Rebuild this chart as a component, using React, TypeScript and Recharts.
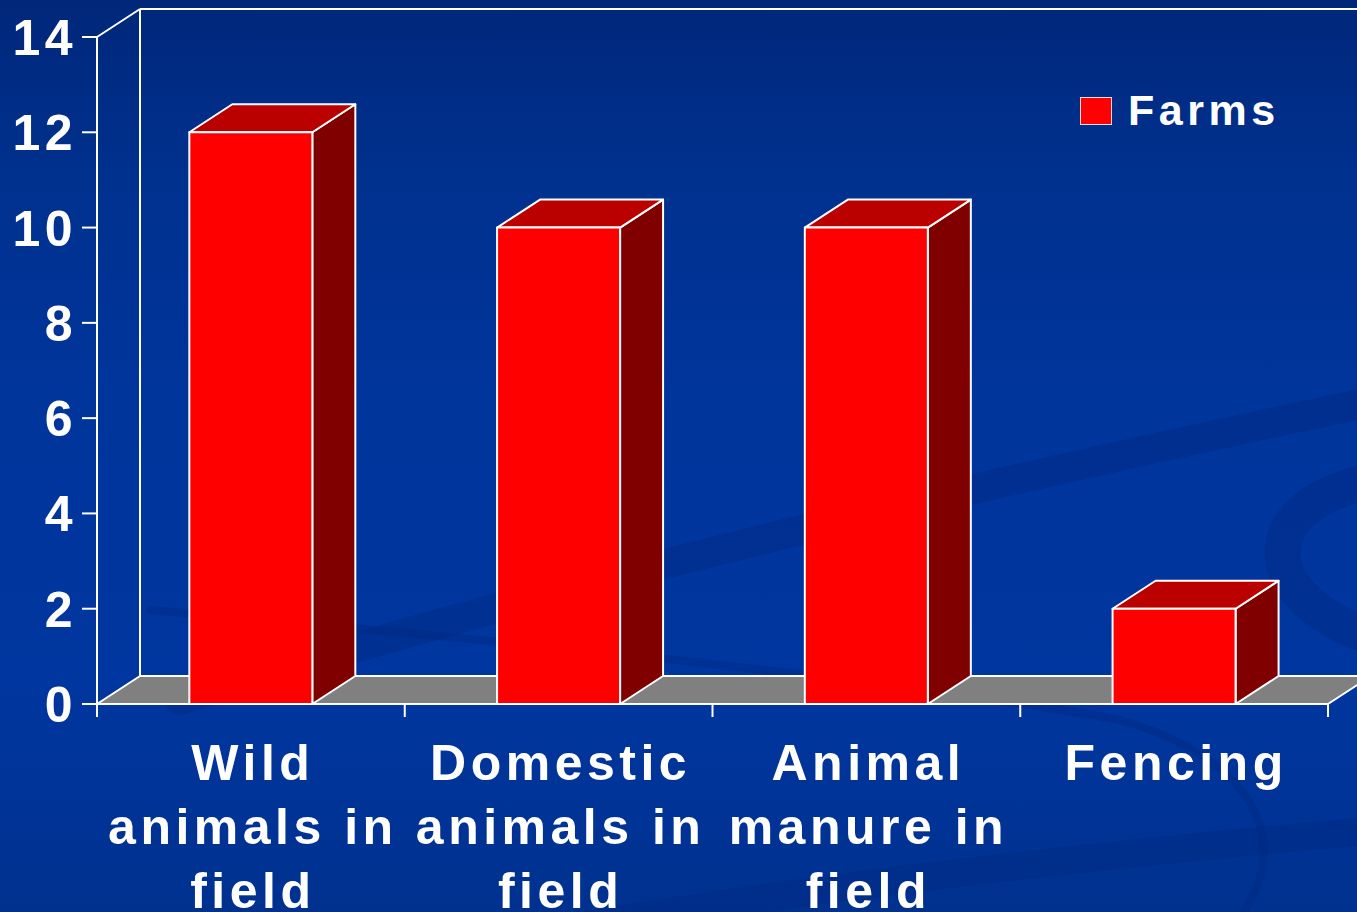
import { Bar, BarChart, Legend, ReferenceArea, XAxis, YAxis } from "recharts";

// survey counts per contamination source
const categories = ["Wild\nanimals in\nfield", "Domestic\nanimals in\nfield", "Animal\nmanure in\nfield", "Fencing"];
const farms = [12, 10, 10, 2];
const yTicks = [0, 2, 4, 6, 8, 10, 12, 14];

const data = categories.map((category, i) => ({ category, farms: farms[i] }));

const FONT = "'Liberation Sans', Arial, sans-serif";
const DEPTH_X = 43;
const DEPTH_Y = -28;

function Box3D(props: any) {
  const { x, y, width: w, height: h } = props;
  if (!h) return null;
  const top = `${x},${y} ${x + DEPTH_X},${y + DEPTH_Y} ${x + w + DEPTH_X},${y + DEPTH_Y} ${x + w},${y}`;
  const side = `${x + w},${y} ${x + w + DEPTH_X},${y + DEPTH_Y} ${x + w + DEPTH_X},${y + h + DEPTH_Y} ${x + w},${y + h}`;
  return (
    <g stroke="#fff" strokeWidth={2} strokeLinejoin="round">
      <polygon points={side} fill="#800000" />
      <polygon points={top} fill="#bb0000" />
      <rect x={x} y={y} width={w} height={h} fill="#ff0000" />
    </g>
  );
}

// back wall, floor and category separators around the plot box
function Frame(props: any) {
  const { x, y, width: w, height: h } = props;
  const n = categories.length;
  const floor = `${x},${y + h} ${x + DEPTH_X},${y + h + DEPTH_Y} ${x + w + DEPTH_X},${y + h + DEPTH_Y} ${x + w},${y + h}`;
  return (
    <g stroke="#fff" strokeWidth={2} fill="none">
      <line x1={x} y1={y} x2={x + DEPTH_X} y2={y + DEPTH_Y} />
      <line x1={x + DEPTH_X} y1={y + DEPTH_Y} x2={x + w + DEPTH_X} y2={y + DEPTH_Y} />
      <line x1={x + DEPTH_X} y1={y + DEPTH_Y} x2={x + DEPTH_X} y2={y + h + DEPTH_Y} />
      <polygon points={floor} fill="#808080" strokeLinejoin="round" />
      {Array.from({ length: n + 1 }, (_, i) => (
        <line key={i} x1={x + (i * w) / n} y1={y + h} x2={x + (i * w) / n} y2={y + h + 13} />
      ))}
    </g>
  );
}

function YTick({ x, y, payload }: any) {
  return (
    <text x={x + 4} y={y + 18} textAnchor="end" fill="#fff" fontFamily={FONT} fontWeight="bold" fontSize={50} letterSpacing={4.5}>
      {payload.value}
    </text>
  );
}

function XTick({ x, y, payload }: any) {
  const lines = String(payload.value).split("\n");
  return (
    <text x={x} y={y + 76} textAnchor="middle" fill="#fff" fontFamily={FONT} fontWeight="bold" fontSize={50} letterSpacing={4.5}>
      {lines.map((line, i) => (
        <tspan key={i} x={x + 2} dy={i === 0 ? 0 : 64}>
          {line}
        </tspan>
      ))}
    </text>
  );
}

function FarmsLegend({ payload }: any) {
  return (
    <div style={{ display: "flex", alignItems: "center" }}>
      {(payload || []).map((entry: any) => (
        <div key={entry.value} style={{ display: "flex", alignItems: "center" }}>
          <span style={{ width: 30, height: 26, background: "#ff0000", border: "1px solid #ddd", display: "inline-block" }} />
          <span style={{ marginLeft: 16, color: "#fff", fontFamily: FONT, fontWeight: "bold", fontSize: 43, letterSpacing: 4.5 }}>
            {entry.value}
          </span>
        </div>
      ))}
    </div>
  );
}

function Swirls() {
  return (
    <svg width={1357} height={912} style={{ position: "absolute", left: 0, top: 0 }}>
      <g fill="none" stroke="#00287f" strokeOpacity={0.4} strokeLinecap="round">
        <path d="M 180 700 C 500 600, 900 500, 1380 400" strokeWidth={30} />
        <path d="M 1380 480 C 1250 500, 1250 600, 1380 640" strokeWidth={36} />
        <path d="M 150 610 C 500 640, 900 680, 1120 720 C 1260 760, 1300 850, 1230 930" strokeWidth={8} />
        <path d="M 560 930 C 850 880, 1150 850, 1380 830" strokeWidth={28} />
      </g>
    </svg>
  );
}

export default function App() {
  return (
    <div
      style={{
        position: "relative",
        width: 1357,
        height: 912,
        overflow: "hidden",
        background: "linear-gradient(180deg, #00277a 0%, #00318f 20%, #00359c 45%, #00369f 75%, #00318f 100%)",
      }}
    >
      <style>{"body{margin:0}"}</style>
      <Swirls />
      <div style={{ position: "absolute", left: 0, top: 0 }}>
        <BarChart width={1357} height={912} data={data} margin={{ top: 37, right: 29, bottom: 0, left: 0 }} barCategoryGap="30%">
          <ReferenceArea y1={0} y2={14} shape={Frame} ifOverflow="visible" />
          <XAxis dataKey="category" height={208} tickLine={false} axisLine={false} tickSize={0} tickMargin={0} interval={0} tick={XTick} />
          <YAxis
            domain={[0, 14]}
            ticks={yTicks}
            interval={0}
            width={97}
            tickSize={15}
            tickMargin={9}
            axisLine={{ stroke: "#fff", strokeWidth: 2 }}
            tickLine={{ stroke: "#fff", strokeWidth: 2 }}
            tick={YTick}
          />
          <Legend
            content={FarmsLegend}
            layout="horizontal"
            verticalAlign="middle"
            align="center"
            wrapperStyle={{ top: 86, left: 1080, width: 260 }}
          />
          <Bar dataKey="farms" name="Farms" fill="#ff0000" shape={Box3D} isAnimationActive={false} />
        </BarChart>
      </div>
    </div>
  );
}
